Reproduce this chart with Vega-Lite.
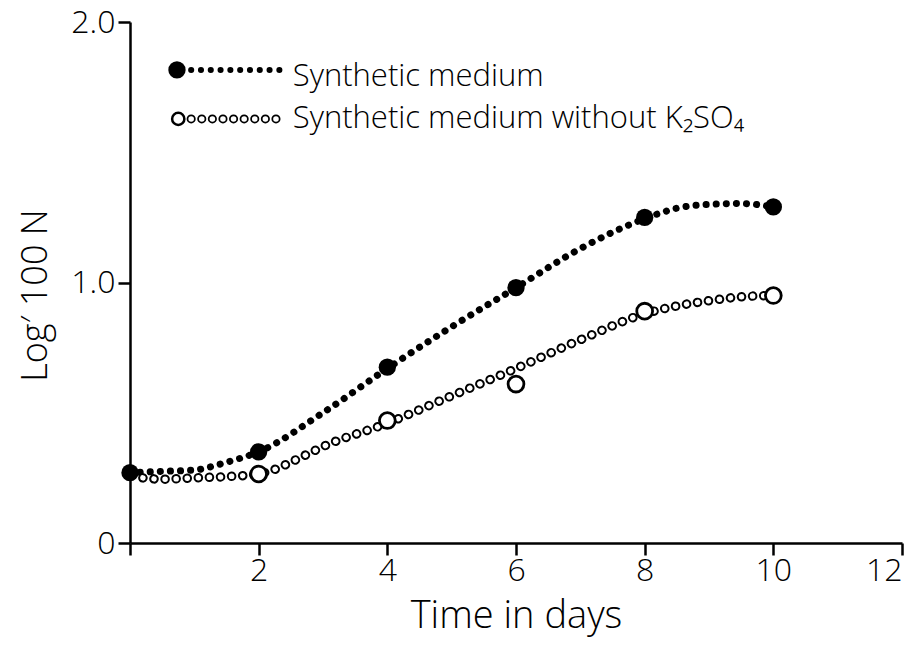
{
  "$schema": "https://vega.github.io/schema/vega-lite/v6.json",
  "width": 772,
  "height": 521,
  "autosize": "none",
  "padding": {"left": 130, "top": 22, "right": 14, "bottom": 102},
  "background": "white",
  "config": {
    "view": {"stroke": null},
    "font": "Open Sans",
    "axis": {
      "grid": false,
      "domainColor": "black",
      "domainWidth": 2.5,
      "tickColor": "black",
      "tickWidth": 2.5,
      "tickSize": 12,
      "labelColor": "black",
      "labelFont": "Open Sans",
      "labelFontWeight": 300,
      "labelFontSize": 32,
      "titleFont": "Open Sans",
      "titleFontWeight": 300,
      "titleFontSize": 36,
      "titleColor": "black"
    }
  },
  "datasets": {
    "points": [
      {"series": "Synthetic medium", "day": 0, "value": 0.27},
      {"series": "Synthetic medium", "day": 2, "value": 0.35},
      {"series": "Synthetic medium", "day": 4, "value": 0.675},
      {"series": "Synthetic medium", "day": 6, "value": 0.98},
      {"series": "Synthetic medium", "day": 8, "value": 1.25},
      {"series": "Synthetic medium", "day": 10, "value": 1.29},
      {"series": "Synthetic medium without K2SO4", "day": 2, "value": 0.265},
      {"series": "Synthetic medium without K2SO4", "day": 4, "value": 0.47},
      {"series": "Synthetic medium without K2SO4", "day": 6, "value": 0.61},
      {"series": "Synthetic medium without K2SO4", "day": 8, "value": 0.89},
      {"series": "Synthetic medium without K2SO4", "day": 10, "value": 0.95}
    ],
    "curveA": [
      {"day": 0, "value": 0.27},
      {"day": 0.5, "value": 0.275},
      {"day": 1, "value": 0.28},
      {"day": 1.5, "value": 0.31},
      {"day": 2, "value": 0.35},
      {"day": 3, "value": 0.5},
      {"day": 4, "value": 0.67},
      {"day": 5, "value": 0.83},
      {"day": 6, "value": 0.98},
      {"day": 7, "value": 1.13},
      {"day": 8, "value": 1.245},
      {"day": 8.5, "value": 1.285},
      {"day": 9, "value": 1.3},
      {"day": 9.5, "value": 1.303},
      {"day": 10, "value": 1.29}
    ],
    "curveB": [
      {"day": 0.2, "value": 0.25},
      {"day": 0.5, "value": 0.245},
      {"day": 1, "value": 0.25},
      {"day": 1.5, "value": 0.255},
      {"day": 2, "value": 0.265},
      {"day": 2.75, "value": 0.34},
      {"day": 3, "value": 0.37},
      {"day": 4, "value": 0.46},
      {"day": 5, "value": 0.565},
      {"day": 6, "value": 0.67},
      {"day": 7, "value": 0.78},
      {"day": 8, "value": 0.88},
      {"day": 8.5, "value": 0.91},
      {"day": 9, "value": 0.93},
      {"day": 9.5, "value": 0.945},
      {"day": 10, "value": 0.95}
    ],
    "legendLineA": [
      {"day": 0.95, "value": 1.816},
      {"day": 2.35, "value": 1.816}
    ],
    "legendLineB": [
      {"day": 0.95, "value": 1.628},
      {"day": 2.4, "value": 1.628}
    ],
    "legendText": [
      {"day": 2.53, "value": 1.754, "label": "Synthetic medium"},
      {"day": 2.53, "value": 1.593, "label": "Synthetic medium without K₂SO₄"}
    ],
    "legendMarkA": [{"day": 0.73, "value": 1.816}],
    "legendMarkB": [{"day": 0.75, "value": 1.628}]
  },
  "encoding": {
    "x": {
      "field": "day", "type": "quantitative",
      "scale": {"domain": [0, 12], "nice": false, "zero": false},
      "axis": {
        "values": [0, 2, 4, 6, 8, 10, 12],
        "labelExpr": "datum.value == 0 ? '' : datum.label",
        "title": "Time in days",
        "titleFontSize": 38,
        "titlePadding": 11,
        "labelPadding": 0
      }
    },
    "y": {
      "field": "value", "type": "quantitative",
      "scale": {"domain": [0, 2], "nice": false},
      "axis": {
        "values": [0, 1, 2],
        "labelExpr": "datum.value == 0 ? '0' : format(datum.value, '.1f')",
        "title": "Log′ 100 N",
        "titleY": 273,
        "titlePadding": 16,
        "labelPadding": 3
      }
    }
  },
  "layer": [
    {
      "data": {"name": "curveA"},
      "mark": {"type": "line", "interpolate": "monotone", "color": "black", "strokeWidth": 7, "strokeCap": "round", "strokeDash": [0.1, 10]}
    },
    {
      "data": {"name": "curveB"},
      "mark": {"type": "line", "interpolate": "monotone", "color": "black", "strokeWidth": 9.5, "strokeCap": "round", "strokeDash": [0.1, 11]}
    },
    {
      "data": {"name": "curveB"},
      "mark": {"type": "line", "interpolate": "monotone", "color": "white", "strokeWidth": 5.5, "strokeCap": "round", "strokeDash": [0.1, 11]}
    },
    {
      "data": {"name": "legendLineA"},
      "mark": {"type": "line", "color": "black", "strokeWidth": 6, "strokeCap": "round", "strokeDash": [0.1, 9.7]}
    },
    {
      "data": {"name": "legendLineB"},
      "mark": {"type": "line", "color": "black", "strokeWidth": 9, "strokeCap": "round", "strokeDash": [0.1, 10.5]}
    },
    {
      "data": {"name": "legendLineB"},
      "mark": {"type": "line", "color": "white", "strokeWidth": 5.5, "strokeCap": "round", "strokeDash": [0.1, 10.5]}
    },
    {
      "data": {"name": "points"},
      "transform": [{"filter": "datum.series == 'Synthetic medium without K2SO4'"}],
      "mark": {"type": "point", "shape": "circle", "filled": true, "fill": "white", "stroke": "black", "strokeWidth": 2.8, "size": 250, "opacity": 1}
    },
    {
      "data": {"name": "points"},
      "transform": [{"filter": "datum.series == 'Synthetic medium'"}],
      "mark": {"type": "point", "shape": "circle", "filled": true, "color": "black", "size": 300, "opacity": 1}
    },
    {
      "data": {"name": "legendMarkA"},
      "mark": {"type": "point", "shape": "circle", "filled": true, "color": "black", "size": 300, "opacity": 1}
    },
    {
      "data": {"name": "legendMarkB"},
      "mark": {"type": "point", "shape": "circle", "filled": true, "fill": "white", "stroke": "black", "strokeWidth": 2.5, "size": 150, "opacity": 1}
    },
    {
      "data": {"name": "legendText"},
      "mark": {"type": "text", "align": "left", "baseline": "alphabetic", "font": "Open Sans", "fontWeight": 300, "fontSize": 31, "color": "black"},
      "encoding": {"text": {"field": "label"}}
    }
  ]
}
